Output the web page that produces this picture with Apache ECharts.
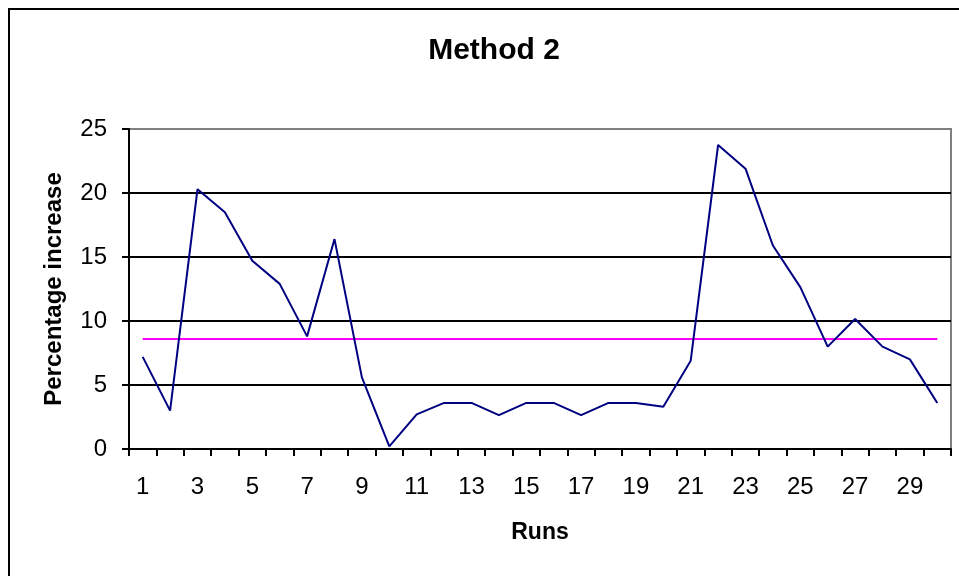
<!DOCTYPE html>
<html>
<head>
<meta charset="utf-8">
<script src="https://cdn.jsdelivr.net/npm/echarts@6/dist/echarts.min.js"></script>
<style>
  html, body { margin: 0; padding: 0; background: #fff; }
  #chart { width: 959px; height: 576px; }
</style>
</head>
<body>
<div id="chart"></div>
<script>
// values
var runs = ['1','2','3','4','5','6','7','8','9','10','11','12','13','14','15',
            '16','17','18','19','20','21','22','23','24','25','26','27','28','29','30'];
var increase = [7.2, 3.0, 20.3, 18.5, 14.7, 12.9, 8.8, 16.4, 5.6, 0.2,
                2.7, 3.6, 3.6, 2.65, 3.6, 3.6, 2.65, 3.6, 3.6, 3.3,
                6.9, 23.75, 21.9, 15.9, 12.65, 8.0, 10.15, 8.0, 7.0, 3.6];
// average line (pink)
var average = [8.6, 8.6, 8.6, 8.6, 8.6, 8.6, 8.6, 8.6, 8.6, 8.6,
               8.6, 8.6, 8.6, 8.6, 8.6, 8.6, 8.6, 8.6, 8.6, 8.6,
               8.6, 8.6, 8.6, 8.6, 8.6, 8.6, 8.6, 8.6, 8.6, 8.6];

var font = 'Liberation Sans, Arial, sans-serif';
var chart = echarts.init(document.getElementById('chart'));

chart.setOption({
    animation: false,
    backgroundColor: '#fff',
    title: {
        text: 'Method 2',
        left: 489,
        top: 31,
        textAlign: 'center',
        textStyle: { fontFamily: font, fontSize: 30, fontWeight: 'bold', color: '#000' }
    },
    graphic: [{
        type: 'rect',
        shape: { x: 9, y: 9, width: 980, height: 600 },
        style: { fill: 'none', stroke: '#000', lineWidth: 2 },
        silent: true
    }],
    grid: {
        left: 129, right: 8, top: 129, bottom: 127,
        show: true, borderColor: '#808080', borderWidth: 2
    },
    xAxis: {
        type: 'category',
        data: runs,
        boundaryGap: true,
        name: 'Runs',
        nameLocation: 'middle',
        nameGap: 72,
        nameTextStyle: { fontFamily: font, fontSize: 23, fontWeight: 'bold', color: '#000' },
        axisLine: { lineStyle: { color: '#000', width: 2 } },
        axisTick: { show: true, interval: 0, length: 7, lineStyle: { color: '#000', width: 2 } },
        axisLabel: { interval: 1, margin: 26, fontFamily: font, fontSize: 24, color: '#000' },
        splitLine: { show: false }
    },
    yAxis: {
        type: 'value',
        min: 0, max: 25, interval: 5,
        name: 'Percentage increase',
        nameLocation: 'middle',
        nameGap: 63,
        nameRotate: 90,
        nameTextStyle: { fontFamily: font, fontSize: 24, fontWeight: 'bold', color: '#000' },
        axisLine: { show: true, lineStyle: { color: '#000', width: 2 } },
        axisTick: { show: true, length: 7, lineStyle: { color: '#000', width: 2 } },
        axisLabel: { margin: 22, fontFamily: font, fontSize: 24, color: '#000' },
        splitLine: { show: true, lineStyle: { color: ['#000', '#000', '#000', '#000', '#000', '#808080'], width: 2 } }
    },
    series: [{
        type: 'line',
        data: increase,
        symbol: 'none',
        lineStyle: { color: '#000080', width: 2 },
        z: 3
    }, {
        type: 'line',
        data: average,
        symbol: 'none',
        lineStyle: { color: '#ff00ff', width: 2 },
        z: 2
    }]
});
</script>
</body>
</html>
